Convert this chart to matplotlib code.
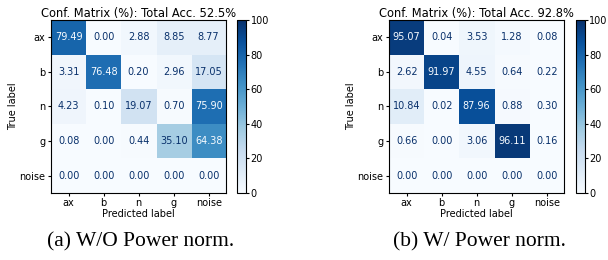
import numpy as np
import matplotlib
matplotlib.use('Agg')
import matplotlib.pyplot as plt

labels = ['ax', 'b', 'n', 'g', 'noise']

cm_wo = np.array([
    [79.49, 0.00, 2.88, 8.85, 8.77],
    [3.31, 76.48, 0.20, 2.96, 17.05],
    [4.23, 0.10, 19.07, 0.70, 75.90],
    [0.08, 0.00, 0.44, 35.10, 64.38],
    [0.00, 0.00, 0.00, 0.00, 0.00],
])
cm_w = np.array([
    [95.07, 0.04, 3.53, 1.28, 0.08],
    [2.62, 91.97, 4.55, 0.64, 0.22],
    [10.84, 0.02, 87.96, 0.88, 0.30],
    [0.66, 0.00, 3.06, 96.11, 0.16],
    [0.00, 0.00, 0.00, 0.00, 0.00],
])
acc = [52.5, 92.8]
captions = ['(a) W/O Power norm.', '(b) W/ Power norm.']

fs = 7
cmap = plt.get_cmap('Blues')

fig = plt.figure(figsize=(6.08, 2.6), dpi=100)
ax_pos = [[0.084, 0.258, 0.288, 0.665], [0.640, 0.258, 0.288, 0.665]]
cb_pos = [[0.390, 0.258, 0.015, 0.665], [0.947, 0.258, 0.015, 0.665]]
cap_x = [0.232, 0.789]

for i, cm in enumerate([cm_wo, cm_w]):
    ax = fig.add_axes(ax_pos[i])
    im = ax.imshow(cm, cmap=cmap, vmin=0, vmax=100, aspect='auto')
    thresh = (cm.max() + cm.min()) / 2.0
    for r in range(cm.shape[0]):
        for c in range(cm.shape[1]):
            col = cmap(0.0) if cm[r, c] > thresh else cmap(1.0)
            ax.text(c, r, f'{cm[r, c]:.2f}', ha='center', va='center',
                    color=col, fontsize=fs)
    ax.set_xticks(range(len(labels)))
    ax.set_xticklabels(labels, fontsize=fs)
    ax.set_yticks(range(len(labels)))
    ax.set_yticklabels(labels, fontsize=fs)
    ax.tick_params(length=2.5, pad=1.5)
    ax.set_xlabel('Predicted label', fontsize=fs, labelpad=0.5)
    ax.set_ylabel('True label', fontsize=fs, labelpad=1)
    ax.set_title(f'Conf. Matrix (%): Total Acc. {acc[i]}%', fontsize=8.3, pad=2)

    cax = fig.add_axes(cb_pos[i])
    cb = fig.colorbar(im, cax=cax)
    cb.set_ticks([0, 20, 40, 60, 80, 100])
    cb.ax.tick_params(labelsize=fs, length=2, pad=1.2)

    fig.text(cap_x[i], 0.069, captions[i],
             ha='center', va='center', fontsize=15.5, family='Liberation Serif')

fig.savefig('out.png', dpi=100)
